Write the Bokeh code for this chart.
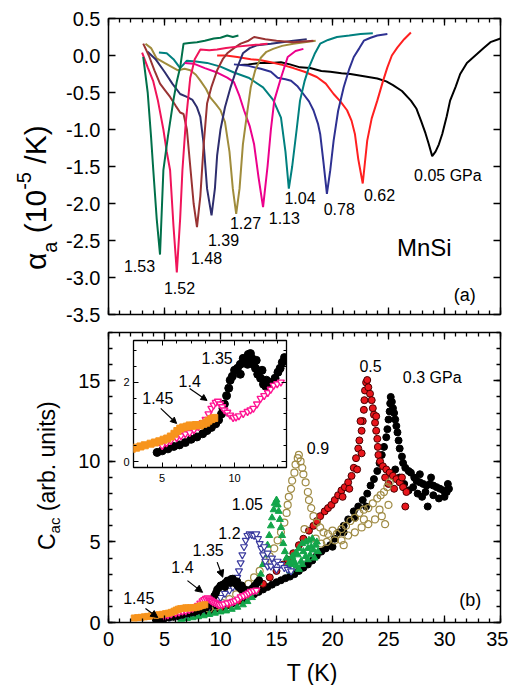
from bokeh.plotting import figure
from bokeh.models import (FixedTicker, LinearAxis, NumeralTickFormatter, Label,
                          Arrow, NormalHead, GridBox, Range1d, CustomJSTickFormatter, Div)
from bokeh.embed import file_html
from bokeh.resources import INLINE

FONT = "Liberation Sans"

# ---------------- panel (a): thermal expansion curves ----------------
t_005 = [11.8, 12.5, 13.5, 14.5, 15.4, 16.2, 17.1, 18.0, 19.0, 19.8, 20.8, 21.6, 22.8, 24.0, 24.8, 25.4, 26.2, 27.0, 27.5, 27.9, 28.3, 28.6, 28.9, 29.2, 29.5, 29.8, 30.2, 30.5, 31.0, 31.4, 32.0, 32.9, 33.5, 34.1, 35.0]
a_005 = [-0.13, -0.12, -0.10, -0.10, -0.09, -0.12, -0.16, -0.17, -0.21, -0.22, -0.24, -0.25, -0.28, -0.31, -0.35, -0.40, -0.48, -0.61, -0.72, -0.88, -1.05, -1.20, -1.36, -1.30, -1.20, -1.06, -0.82, -0.61, -0.42, -0.25, -0.10, 0.02, 0.10, 0.18, 0.23]

t_062 = [9.7, 10.5, 11.5, 12.7, 13.5, 14.5, 15.6, 16.5, 17.5, 18.6, 19.4, 20.1, 20.7, 21.3, 21.7, 22.0, 22.3, 22.7, 23.1, 23.5, 24.0, 24.5, 24.9, 25.3, 25.8, 26.4, 27.0]
a_062 = [0.0, 0.0, -0.02, -0.05, -0.06, -0.09, -0.13, -0.17, -0.22, -0.29, -0.38, -0.52, -0.62, -0.74, -0.88, -1.06, -1.40, -1.73, -1.15, -0.85, -0.61, -0.35, -0.16, 0.0, 0.11, 0.22, 0.31]

t_078 = [11.2, 12.5, 13.6, 14.5, 15.1, 15.8, 16.3, 16.9, 17.4, 17.9, 18.3, 18.7, 18.9, 19.2, 19.5, 19.8, 20.1, 20.5, 21.0, 21.5, 21.9, 22.4, 22.8, 23.4, 24.0, 24.9]
a_078 = [-0.12, -0.14, -0.18, -0.22, -0.30, -0.32, -0.34, -0.42, -0.52, -0.62, -0.74, -0.92, -1.06, -1.45, -1.87, -1.55, -1.15, -0.75, -0.43, -0.18, -0.02, 0.10, 0.20, 0.24, 0.27, 0.29]

t_104 = [4.5, 5.2, 5.8, 6.4, 7.0, 7.8, 8.8, 10.0, 11.2, 12.5, 13.8, 14.7, 15.4, 15.8, 16.1, 16.4, 16.8, 17.1, 17.5, 17.9, 18.4, 18.9, 19.6, 20.4, 21.5, 22.5, 23.6]
a_104 = [0.04, 0.03, -0.05, -0.17, -0.07, -0.08, -0.10, -0.15, -0.23, -0.30, -0.43, -0.60, -0.84, -1.30, -1.80, -1.50, -1.00, -0.61, -0.35, -0.16, 0.02, 0.16, 0.21, 0.25, 0.27, 0.29, 0.30]

t_113 = [6.8, 7.6, 8.6, 9.7, 10.6, 11.2, 11.7, 12.1, 12.6, 13.0, 13.4, 13.8, 14.2, 14.5, 14.8, 15.4, 16.0, 16.7, 17.4]
a_113 = [-0.10, -0.11, -0.17, -0.23, -0.30, -0.36, -0.55, -0.74, -0.95, -1.20, -1.65, -2.05, -1.50, -1.00, -0.61, -0.30, -0.02, 0.06, 0.09]

t_127 = [3.3, 3.8, 4.3, 5.0, 5.6, 6.2, 6.8, 7.3, 7.8, 8.2, 8.7, 9.1, 9.6, 10.0, 10.4, 10.8, 11.1, 11.4, 11.7, 12.0, 12.4, 12.7, 13.1, 13.6, 14.1, 14.7, 15.5, 16.5, 17.5, 18.5]
a_127 = [0.16, 0.10, -0.04, -0.10, -0.15, -0.20, -0.18, -0.20, -0.26, -0.34, -0.45, -0.57, -0.66, -0.74, -0.90, -1.30, -1.80, -2.14, -1.80, -1.20, -0.75, -0.43, -0.20, -0.03, 0.05, 0.09, 0.13, 0.16, 0.18, 0.20]

t_139 = [3.5, 4.2, 5.0, 5.7, 6.4, 7.0, 7.5, 7.9, 8.2, 8.5, 8.8, 9.2, 9.5, 9.7, 10.0, 10.4, 10.9, 11.4, 12.0, 12.6, 13.3, 14.5, 15.5, 16.5, 17.7]
a_139 = [0.05, -0.05, -0.22, -0.38, -0.52, -0.56, -0.60, -0.70, -0.83, -1.20, -1.80, -2.16, -1.80, -1.35, -1.00, -0.70, -0.43, -0.20, 0.03, 0.10, 0.14, 0.16, 0.18, 0.20, 0.22]

t_148 = [3.1, 3.6, 4.1, 4.6, 5.0, 5.5, 6.0, 6.4, 6.7, 7.0, 7.3, 7.6, 7.9, 8.2, 8.5, 8.8, 9.2, 9.7, 10.2, 10.6, 11.2, 11.8, 12.5, 13.0, 14.0, 15.0, 16.5, 18.3]
a_148 = [0.16, 0.0, -0.20, -0.38, -0.46, -0.56, -0.68, -0.77, -0.79, -1.00, -1.50, -2.00, -2.32, -1.90, -1.20, -0.65, -0.42, -0.20, -0.05, 0.03, 0.10, 0.16, 0.20, 0.25, 0.22, 0.20, 0.18, 0.20]

t_152 = [3.0, 3.5, 4.0, 4.4, 4.9, 5.2, 5.5, 5.8, 6.1, 6.4, 6.6, 6.9, 7.3, 7.7, 8.2, 9.0, 9.7, 10.5, 11.5, 12.7, 13.5, 14.2]
a_152 = [0.04, -0.16, -0.35, -0.60, -1.00, -1.30, -1.55, -2.30, -2.93, -2.20, -1.55, -0.90, -0.30, -0.05, 0.08, 0.07, 0.08, 0.10, 0.12, 0.14, 0.15, 0.16]

t_153 = [3.1, 3.5, 3.8, 4.0, 4.3, 4.6, 4.9, 5.3, 5.8, 6.1, 6.4, 6.7, 7.2, 7.9, 8.6, 9.4, 10.0, 10.6, 11.1, 11.6]
a_153 = [-0.02, -0.50, -1.10, -1.55, -2.20, -2.69, -1.55, -1.10, -0.60, -0.35, -0.16, 0.16, 0.17, 0.18, 0.20, 0.23, 0.24, 0.27, 0.25, 0.27]

curves_a = [
    (t_005, a_005, "#000000"), (t_062, a_062, "#FF2020"), (t_078, a_078, "#2E3192"),
    (t_104, a_104, "#00807F"), (t_113, a_113, "#EC008C"), (t_127, a_127, "#A08C3C"),
    (t_139, a_139, "#2E2E6E"), (t_148, a_148, "#993333"), (t_152, a_152, "#F0145A"),
    (t_153, a_153, "#00704A"),
]

lab_a_text = ["1.53", "1.52", "1.48", "1.39", "1.27", "1.13", "1.04", "0.78", "0.62", "0.05 GPa"]
lab_a_x = [2.77, 6.34, 8.75, 10.27, 12.23, 15.7, 17.1, 20.6, 24.2, 30.3]
lab_a_y = [-2.85, -3.14, -2.74, -2.49, -2.27, -2.19, -1.93, -2.08, -1.89, -1.62]

# ---------------- panel (b): ac heat capacity ----------------
t_03 = [4.2, 4.6, 5.0, 5.4, 5.8, 6.2, 6.6, 7.0, 7.4, 7.8, 8.2, 8.6, 9.0, 9.4, 9.8, 10.2, 10.6, 11.0, 11.4, 11.8, 12.2, 12.6, 13.0, 13.4, 13.8, 14.2, 14.6, 15.0, 15.4, 15.8, 16.2, 16.6, 17.0, 17.4, 17.8, 18.2, 18.6, 19.0, 19.4, 19.8, 20.2, 20.6, 21.0, 21.4, 21.9, 22.3, 22.7, 23.1, 23.4, 23.7, 24.0, 24.2, 24.4, 24.6, 24.8, 24.9, 25.0, 25.1, 25.15, 25.2, 25.3, 25.4, 25.5, 25.6, 25.7, 25.8, 25.9, 26.0, 26.2, 26.3, 26.5, 26.8, 27.0, 27.3, 27.5, 27.8, 28.1, 28.4, 28.7, 29.0, 29.3, 29.6, 29.9, 30.2, 30.4, 26.0, 26.4, 26.8, 27.2, 27.6, 28.0, 28.5, 28.3, 29.0, 29.5, 30.0, 30.3, 28.8, 27.8, 25.6, 23.0, 22.0, 21.0, 20.0]
c_03 = [0.22, 0.25, 0.28, 0.31, 0.35, 0.38, 0.42, 0.46, 0.50, 0.55, 0.60, 0.66, 0.72, 0.80, 0.88, 0.97, 1.06, 1.16, 1.27, 1.38, 1.50, 1.62, 1.75, 1.90, 2.05, 2.20, 2.35, 2.50, 2.62, 2.75, 2.85, 3.00, 3.20, 3.40, 3.60, 3.85, 4.15, 4.40, 4.60, 4.80, 5.20, 5.60, 6.00, 6.40, 6.90, 7.20, 7.60, 8.00, 8.50, 8.90, 9.40, 9.90, 10.4, 10.9, 11.5, 12.0, 12.6, 13.1, 13.6, 14.0, 13.7, 13.3, 13.0, 12.6, 12.2, 11.8, 11.3, 10.8, 10.3, 9.9, 9.6, 9.4, 9.3, 9.0, 8.8, 8.7, 8.6, 8.5, 8.6, 8.5, 8.4, 8.3, 8.2, 8.1, 8.3, 9.0, 8.6, 8.2, 8.4, 8.0, 7.8, 7.2, 8.1, 7.9, 7.7, 7.8, 8.6, 9.0, 9.2, 9.5, 7.2, 6.5, 5.6, 4.7]

t_05 = [10.0, 10.8, 11.6, 12.4, 13.2, 13.8, 14.4, 15.0, 15.6, 16.0, 16.5, 17.0, 17.4, 17.9, 18.3, 18.6, 18.9, 19.3, 19.6, 19.9, 20.2, 20.5, 20.8, 21.1, 21.4, 21.7, 21.9, 22.1, 22.3, 22.4, 22.6, 22.7, 22.8, 22.85, 22.9, 23.0, 23.1, 23.2, 23.35, 23.5, 23.6, 23.7, 23.8, 23.9, 24.0, 24.05, 24.1, 24.25, 24.5, 24.8, 25.1, 25.4, 25.7, 26.0, 26.3, 26.6, 26.5, 25.0, 25.5, 24.7, 26.2, 22.6, 22.2, 21.5, 20.9, 23.9, 22.5]
c_05 = [0.9, 1.1, 1.35, 1.65, 2.0, 2.4, 2.8, 3.2, 3.6, 3.9, 4.3, 4.8, 5.2, 5.7, 6.0, 6.3, 6.6, 6.9, 7.1, 7.3, 7.6, 7.9, 8.2, 8.4, 8.7, 9.1, 9.6, 10.2, 10.8, 11.3, 11.9, 12.5, 13.2, 13.8, 14.4, 14.9, 15.05, 14.6, 14.2, 13.8, 13.3, 12.9, 12.4, 11.9, 11.4, 10.9, 10.4, 10.0, 9.7, 9.5, 9.3, 9.1, 8.9, 8.7, 8.4, 8.1, 7.2, 8.6, 8.3, 9.0, 9.0, 10.5, 9.5, 8.3, 7.8, 12.8, 12.5]

t_09 = [9.0, 9.6, 10.2, 10.8, 11.4, 12.0, 12.5, 13.0, 13.5, 14.0, 14.4, 14.8, 15.1, 15.4, 15.7, 15.9, 16.0, 16.1, 16.3, 16.4, 16.6, 16.7, 16.9, 17.0, 17.15, 17.3, 17.4, 17.6, 17.8, 17.9, 18.1, 18.3, 18.6, 18.9, 19.2, 19.6, 20.0, 20.4, 20.8, 21.2, 21.6, 22.0, 22.4, 22.8, 23.2, 23.6, 24.0, 24.3, 24.6, 24.9, 25.1, 19.0, 19.5, 20.2, 20.8, 21.4, 22.0, 22.6, 23.2, 23.8, 24.4, 24.7, 25.0, 24.2, 21.0, 22.8, 18.5, 17.5]
c_09 = [0.85, 1.0, 1.2, 1.45, 1.75, 2.1, 2.4, 2.8, 3.2, 3.7, 4.1, 4.6, 5.1, 5.6, 6.2, 6.8, 7.3, 7.8, 8.3, 8.8, 9.3, 9.8, 10.2, 10.4, 10.0, 9.6, 9.2, 8.7, 8.1, 7.6, 7.1, 6.6, 6.2, 5.9, 5.6, 5.5, 5.7, 5.5, 5.8, 6.0, 6.3, 6.5, 6.8, 7.0, 7.1, 7.4, 7.7, 7.9, 8.1, 8.4, 8.7, 4.9, 5.0, 5.1, 5.1, 5.4, 5.6, 5.9, 6.1, 6.4, 6.6, 6.1, 7.3, 7.0, 4.8, 6.4, 5.2, 5.8]

t_105 = [6.5, 7.0, 7.5, 8.0, 8.5, 9.0, 9.5, 10.0, 10.5, 11.0, 11.5, 12.0, 12.4, 12.8, 13.1, 13.4, 13.6, 13.8, 14.0, 14.2, 14.35, 14.5, 14.6, 14.75, 14.85, 15.0, 15.1, 15.2, 15.3, 15.4, 15.5, 15.6, 15.75, 15.9, 16.1, 16.3, 16.5, 16.7, 17.0, 17.3, 17.6, 17.9, 18.2, 18.5, 18.7, 16.8, 17.2, 17.6, 18.0, 18.4, 17.0, 16.2, 16.4, 16.9, 17.4, 17.8, 18.1, 18.6, 16.6, 17.3, 17.8, 18.3]
c_105 = [0.20, 0.25, 0.30, 0.36, 0.42, 0.50, 0.58, 0.66, 0.72, 0.82, 0.95, 1.10, 1.30, 1.55, 1.90, 2.50, 3.00, 3.60, 4.20, 4.80, 5.40, 6.00, 6.50, 7.00, 7.40, 7.60, 7.30, 6.90, 6.40, 5.90, 5.40, 4.90, 4.40, 4.00, 3.70, 3.60, 3.90, 4.30, 4.60, 4.90, 5.00, 5.10, 5.20, 4.80, 4.40, 3.50, 3.80, 4.10, 4.20, 4.00, 3.30, 3.20, 4.10, 4.20, 4.40, 4.60, 4.70, 5.00, 3.70, 3.60, 3.90, 4.50]

t_12 = [5.0, 5.5, 6.0, 6.5, 7.0, 7.5, 8.0, 8.5, 9.0, 9.5, 10.0, 10.4, 10.8, 11.1, 11.3, 11.5, 11.65, 11.8, 11.95, 12.1, 12.25, 12.4, 12.6, 12.8, 13.0, 13.2, 13.35, 13.5, 13.65, 13.8, 14.0, 14.2, 14.5, 14.8, 15.1, 15.4, 15.7, 16.0, 16.3, 14.2, 14.6, 15.0, 13.9]
c_12 = [0.28, 0.33, 0.40, 0.47, 0.55, 0.64, 0.75, 0.88, 1.02, 1.25, 1.55, 1.80, 2.00, 2.20, 2.50, 2.80, 3.20, 3.70, 4.20, 4.70, 5.10, 5.40, 5.50, 5.45, 5.40, 5.50, 5.20, 4.90, 4.60, 4.20, 3.80, 3.50, 3.50, 3.70, 3.80, 3.60, 3.40, 3.30, 3.20, 4.30, 4.00, 3.30, 4.70]

t_135 = [4.65, 5.0, 5.4, 5.8, 6.2, 6.6, 7.0, 7.4, 7.8, 8.1, 8.4, 8.7, 8.9, 9.1, 9.2, 9.3, 9.45, 9.6, 9.7, 9.85, 10.0, 10.2, 10.4, 10.6, 10.8, 10.95, 11.1, 11.2, 11.3, 11.45, 11.6, 11.8, 12.0, 12.15, 12.3, 12.45, 12.6, 12.8, 13.0, 13.15, 13.3, 13.45, 10.4, 10.9, 11.5, 11.9, 12.2]
c_135 = [0.23, 0.27, 0.32, 0.38, 0.42, 0.48, 0.56, 0.62, 0.70, 0.78, 0.86, 0.95, 1.05, 1.20, 1.34, 1.45, 1.66, 1.85, 2.05, 2.15, 2.30, 2.35, 2.45, 2.60, 2.55, 2.70, 2.72, 2.60, 2.45, 2.35, 2.20, 2.10, 1.95, 1.90, 1.84, 1.95, 2.00, 2.10, 2.25, 2.35, 2.50, 2.62, 2.20, 2.45, 2.55, 2.30, 2.05]

t_14 = [5.0, 5.3, 5.6, 6.0, 6.3, 6.6, 6.9, 7.2, 7.5, 7.8, 8.0, 8.2, 8.4, 8.55, 8.7, 8.85, 9.0, 9.15, 9.3, 9.5, 9.7, 9.9, 10.1, 10.3, 10.6, 10.9, 11.1, 11.3, 11.55, 11.8, 12.05, 12.3, 12.5, 12.7, 12.95, 13.2]
c_14 = [0.40, 0.47, 0.53, 0.60, 0.65, 0.70, 0.73, 0.80, 0.88, 0.98, 1.06, 1.20, 1.34, 1.42, 1.49, 1.52, 1.45, 1.38, 1.30, 1.24, 1.17, 1.11, 1.12, 1.15, 1.21, 1.26, 1.30, 1.34, 1.45, 1.59, 1.66, 1.74, 1.82, 1.92, 1.96, 2.00]

t_145 = [2.3, 2.6, 2.9, 3.2, 3.5, 3.8, 4.2, 4.5, 4.8, 5.1, 5.35, 5.6, 5.85, 6.05, 6.25, 6.45, 6.7, 6.9, 7.1, 7.35, 7.6, 7.85, 8.05, 8.2, 8.4, 8.6]
c_145 = [0.28, 0.30, 0.32, 0.35, 0.38, 0.41, 0.45, 0.48, 0.51, 0.55, 0.58, 0.63, 0.70, 0.77, 0.83, 0.86, 0.88, 0.91, 0.90, 0.92, 0.91, 0.95, 0.98, 1.03, 1.07, 1.10]

lab_b_text = ["0.5", "0.3 GPa", "0.9", "1.05", "1.2", "1.35", "1.4", "1.45"]
lab_b_x = [23.4, 28.9, 18.7, 12.4, 10.8, 8.9, 6.6, 2.7]
lab_b_y = [15.95, 15.2, 10.85, 7.35, 5.55, 4.5, 3.45, 1.5]

arr_b = [((3.3, 0.87), (4.4, 0.31)), ((7.05, 2.6), (8.4, 1.87)), ((9.7, 3.75), (10.2, 2.81))]

lab_in_text = ["1.35", "1.4", "1.45"]
lab_in_x = [8.8, 6.9, 4.7]
lab_in_y = [2.6, 2.04, 1.6]
arr_in = [((6.9, 1.84), (8.1, 1.54)), ((4.9, 1.34), (6.0, 0.96))]

EMPTY = CustomJSTickFormatter(code="return ''")


def axis(ticker, labels, fmt=None, size="20px", standoff=8, tin=7, tmin=4, lw=1.3):
    ax = LinearAxis(ticker=ticker)
    ax.major_tick_in = tin
    ax.major_tick_out = 0
    ax.minor_tick_in = tmin
    ax.minor_tick_out = 0
    ax.major_tick_line_width = lw
    ax.minor_tick_line_width = lw
    ax.axis_line_color = None
    if labels:
        ax.major_label_text_font = FONT
        ax.major_label_text_font_size = size
        ax.major_label_text_color = "black"
        ax.major_label_standoff = standoff
        if fmt is not None:
            ax.formatter = fmt
    else:
        ax.formatter = EMPTY
        ax.major_label_text_font_size = "1px"
        ax.major_label_standoff = 0
    return ax


def txt(p, x, y, s, size="16px", align="center", baseline="middle"):
    p.add_layout(Label(x=x, y=y, text=s, text_font=FONT, text_font_size=size,
                       text_align=align, text_baseline=baseline, text_color="black"))


# ---------- figure (a) ----------
p1 = figure(frame_width=392, frame_height=296, x_range=Range1d(0, 35), y_range=Range1d(-3.5, 0.5),
            x_axis_type=None, y_axis_type=None, output_backend="svg", toolbar_location=None,
            min_border_left=100, min_border_right=8, min_border_top=10, min_border_bottom=12)
p1.outline_line_color = "black"
p1.outline_line_width = 1.5
p1.grid.visible = False

xt = FixedTicker(ticks=list(range(0, 36, 5)), minor_ticks=list(range(0, 36)))
yt1 = FixedTicker(ticks=[-3.5, -3.0, -2.5, -2.0, -1.5, -1.0, -0.5, 0.0, 0.5], minor_ticks=[])
p1.add_layout(axis(yt1, True, NumeralTickFormatter(format="0.0")), "left")
p1.add_layout(axis(yt1, False), "right")
p1.add_layout(axis(xt, False), "below")
p1.add_layout(axis(xt, False), "above")

for tx, ay, col in curves_a:
    p1.line(tx, ay, line_color=col, line_width=2)

for s, x, y in zip(lab_a_text, lab_a_x, lab_a_y):
    txt(p1, x, y, s)
txt(p1, 28.2, -2.59, "MnSi", size="24px")
txt(p1, 31.8, -3.24, "(a)", size="18px")

# ---------- figure (b) ----------
p2 = figure(frame_width=392, frame_height=290, x_range=Range1d(0, 35), y_range=Range1d(0, 18),
            x_axis_type=None, y_axis_type=None, output_backend="svg", toolbar_location=None,
            min_border_left=100, min_border_right=8, min_border_top=6, min_border_bottom=40)
p2.outline_line_color = "black"
p2.outline_line_width = 1.5
p2.grid.visible = False

yt2 = FixedTicker(ticks=[0, 5, 10, 15], minor_ticks=list(range(0, 19)))
p2.add_layout(axis(yt2, True), "left")
p2.add_layout(axis(yt2, False), "right")
p2.add_layout(axis(xt, True, standoff=9), "below")
p2.add_layout(axis(xt, False), "above")

S = 7
p2.scatter(t_03, c_03, marker="circle", size=S, fill_color="black", line_color="black")
p2.scatter(t_05, c_05, marker="circle", size=S, fill_color="#E8161C", line_color="#4A0000", line_width=1)
p2.scatter(t_09, c_09, marker="circle", size=S, fill_color="white", fill_alpha=0.0, line_color="#A08C46", line_width=1.2)
p2.scatter(t_105, c_105, marker="triangle", size=S, fill_color="#13A54A", line_color="#13A54A")
p2.scatter(t_12, c_12, marker="inverted_triangle", size=S, fill_color="white", line_color="#3A3A9E", line_width=1.2)
p2.scatter(t_135, c_135, marker="circle", size=S, fill_color="black", line_color="black")
p2.scatter(t_14, c_14, marker="inverted_triangle", size=S, fill_color="white", line_color="#FF1493", line_width=1.4)
p2.scatter(t_145, c_145, marker="square", size=6, fill_color="#F7941D", line_color="#F7941D")

for s, x, y in zip(lab_b_text, lab_b_x, lab_b_y):
    txt(p2, x, y, s)
txt(p2, 32.3, 1.4, "(b)", size="18px")
for (x0, y0), (x1, y1) in arr_b:
    p2.add_layout(Arrow(x_start=x0, y_start=y0, x_end=x1, y_end=y1, line_width=1.2,
                        end=NormalHead(size=7, fill_color="black", line_color="black")))

# ---------- inset ----------
pi = figure(frame_width=153, frame_height=127, x_range=Range1d(3.02, 13.59), y_range=Range1d(-0.15, 3.05),
            x_axis_type=None, y_axis_type=None, output_backend="svg", toolbar_location=None,
            min_border_left=17, min_border_right=6, min_border_top=4, min_border_bottom=20)
pi.outline_line_color = "black"
pi.outline_line_width = 1.3
pi.grid.visible = False
pi.border_fill_color = None
pi.background_fill_color = "white"

xti = FixedTicker(ticks=[5, 10], minor_ticks=list(range(3, 14)))
yti = FixedTicker(ticks=[0, 2], minor_ticks=[0, 0.4, 0.8, 1.2, 1.6, 2.0, 2.4, 2.8])
pi.add_layout(axis(yti, True, size="11px", standoff=4, tin=5, tmin=3, lw=1), "left")
pi.add_layout(axis(yti, False, tin=5, tmin=3, lw=1), "right")
pi.add_layout(axis(xti, True, size="11px", standoff=6, tin=5, tmin=3, lw=1), "below")
pi.add_layout(axis(xti, False, tin=5, tmin=3, lw=1), "above")

pi.scatter(t_135, c_135, marker="circle", size=8, fill_color="black", line_color="black")
pi.scatter(t_14, c_14, marker="inverted_triangle", size=7, fill_color="white", line_color="#FF1493", line_width=1.4)
pi.scatter(t_145, c_145, marker="square", size=7, fill_color="#F7941D", line_color="#F7941D")
for s, x, y in zip(lab_in_text, lab_in_x, lab_in_y):
    txt(pi, x, y, s)
for (x0, y0), (x1, y1) in arr_in:
    pi.add_layout(Arrow(x_start=x0, y_start=y0, x_end=x1, y_end=y1, line_width=1.2,
                        end=NormalHead(size=6, fill_color="black", line_color="black")))

# ---------- axis titles (HTML text, with real sub/superscripts) ----------
ROT = "position:absolute;transform:rotate(-90deg);transform-origin:0 0;white-space:nowrap;"
titles_html = (
    "<div style=\"position:relative;width:500px;height:673px;font-family:'Liberation Sans',Arial,sans-serif;color:#000;\">"
    "<div style=\"" + ROT + "left:7.6px;top:257px;font-size:30px;line-height:30px;\">"
    "\u03b1<span style=\"font-size:20px;vertical-align:-11px;line-height:0\">a</span>"
    " (10<span style=\"font-size:20px;vertical-align:15px;line-height:0\">-5</span> /K)</div>"
    "<div style=\"" + ROT + "left:22.5px;top:537px;font-size:23px;line-height:23px;\">"
    "C<span style=\"font-size:15px;vertical-align:-5px;line-height:0\">ac</span> (arb. units)</div>"
    "<div style=\"position:absolute;left:299px;top:649px;transform:translateX(-50%);white-space:nowrap;"
    "font-size:23px;line-height:23px;\">T (K)</div>"
    "</div>"
)
titles = Div(text=titles_html, width=500, height=673)

grid = GridBox(children=[(p1, 1, 1, 1, 3), (p2, 2, 1, 3, 3), (pi, 3, 2, 1, 1), (titles, 1, 1, 5, 3)],
               rows=["8px", "318px", "10px", "155px", "186px", "4px"],
               cols=["8px", "108px", "176px", "216px"])

open("out.html", "w").write(file_html(grid, INLINE))
